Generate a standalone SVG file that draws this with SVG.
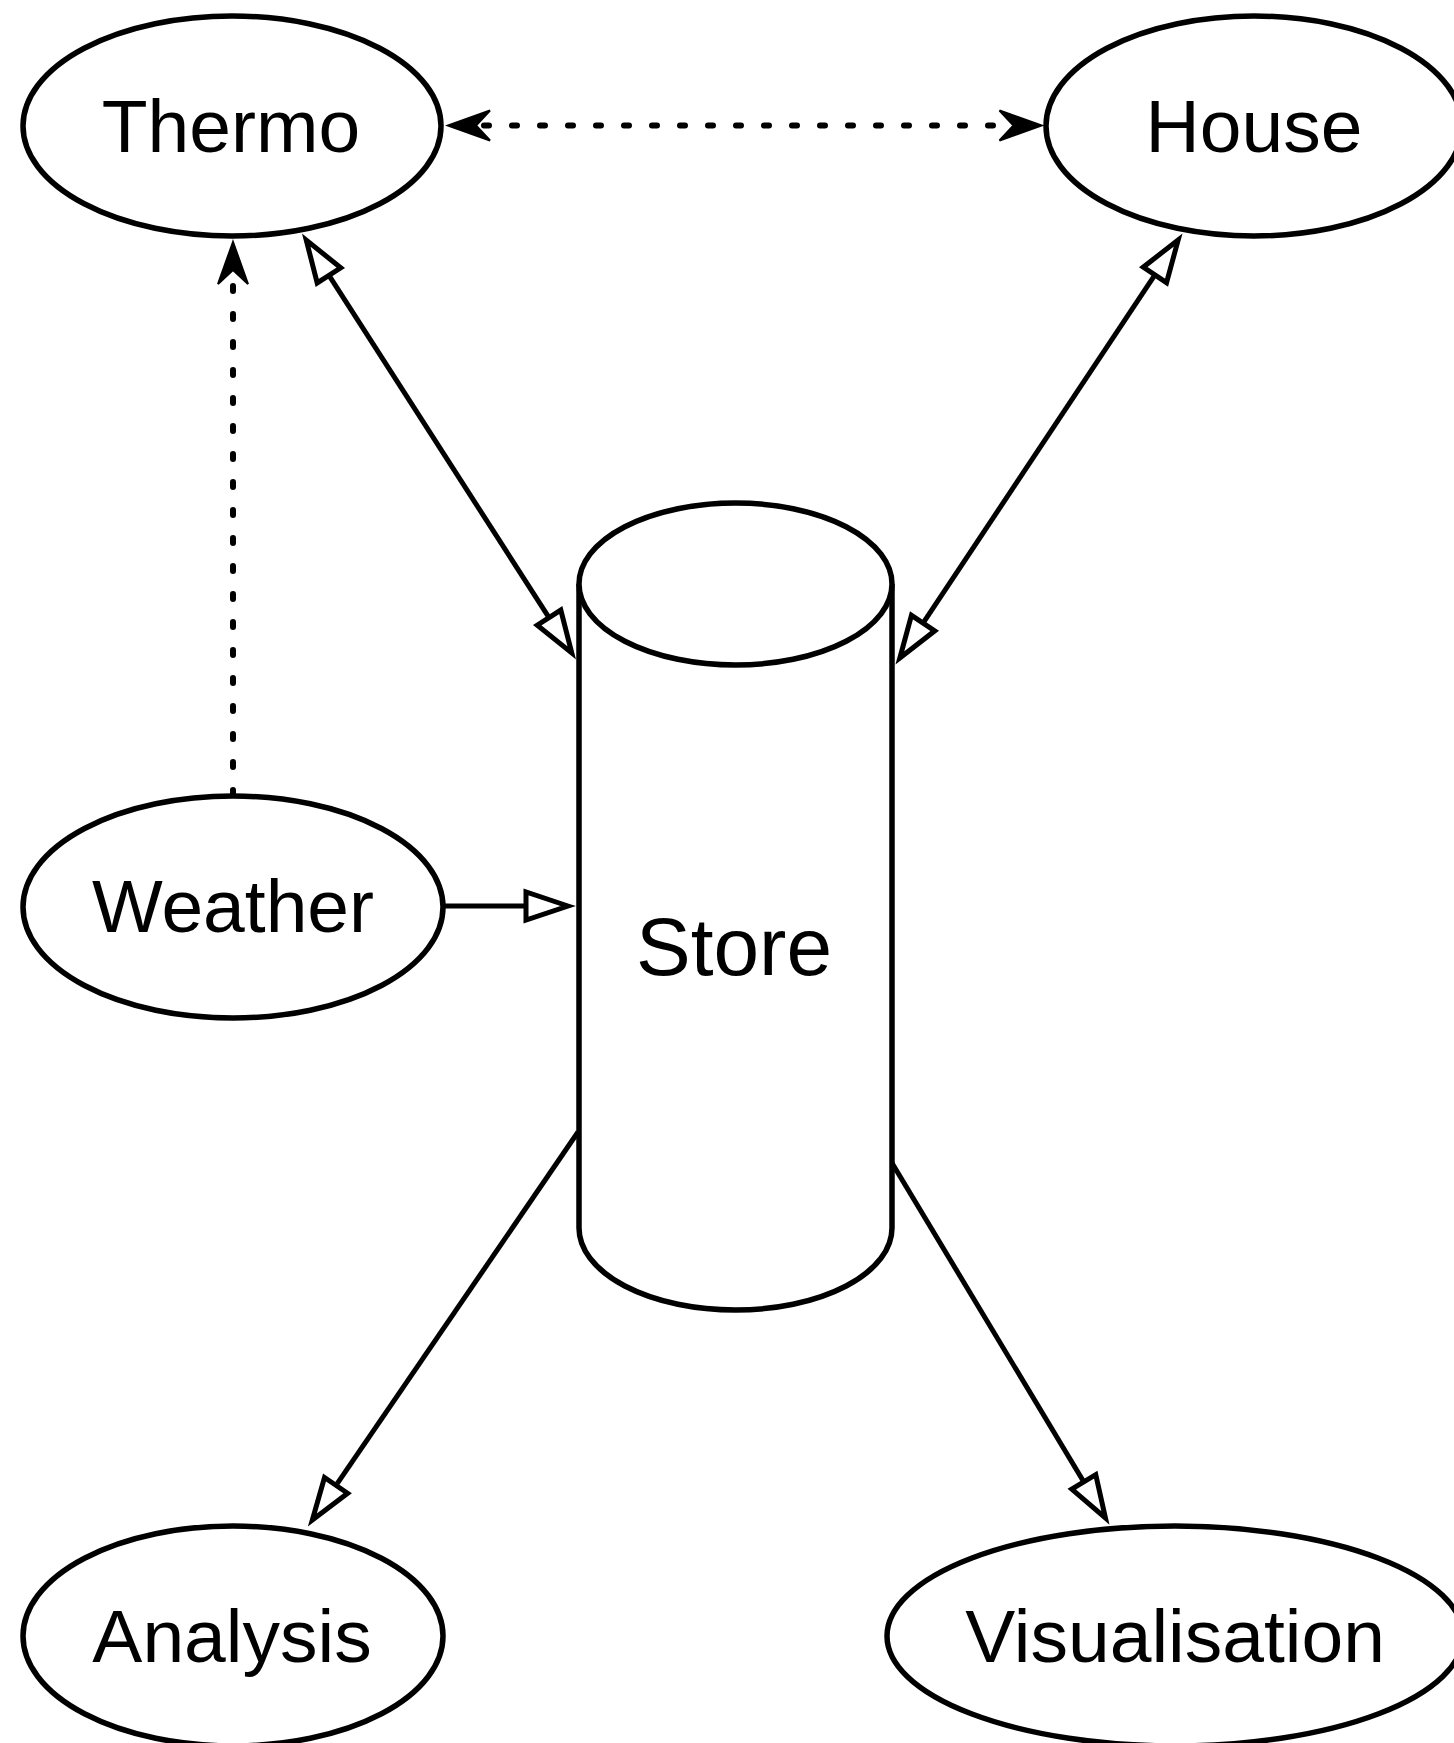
<svg xmlns="http://www.w3.org/2000/svg" width="1454" height="1743" viewBox="0 0 1454 1743">
  <style>
    .shape { fill: #fff; stroke: #000; stroke-width: 5.5; }
    .label { font-family: "Liberation Sans", Arial, Helvetica, sans-serif; font-size: 75px; fill: #000; text-anchor: middle; }
    .edge { fill: none; stroke: #000; stroke-width: 5; }
    .dotted { stroke-width: 6; stroke-dasharray: 5 23; stroke-linecap: round; }
  </style>
  <defs>
    <!-- hollow triangle head -->
    <marker id="tri" markerUnits="userSpaceOnUse" viewBox="-50 -22 64 44" refX="0" refY="0" markerWidth="64" markerHeight="44" orient="auto-start-reverse">
      <path d="M1,0 L-41,-14 L-41,14 Z" fill="#fff" stroke="#000" stroke-width="5" stroke-linejoin="miter"/>
    </marker>
    <!-- notched filled head for dotted links -->
    <marker id="vee" markerUnits="userSpaceOnUse" viewBox="-40 -20 56 40" refX="0" refY="0" markerWidth="56" markerHeight="40" orient="auto-start-reverse">
      <path d="M8,0 L-34,-15 L-20,0 L-34,15 Z" fill="#000" stroke="#000" stroke-width="2"/>
    </marker>
  </defs>

  <g id="connectors">
    <line class="edge dotted" x1="456" y1="125.5" x2="1033.5" y2="125.5" marker-start="url(#vee)" marker-end="url(#vee)"/>
    <line class="edge dotted" x1="233" y1="795" x2="233" y2="250" marker-end="url(#vee)"/>
    <line class="edge" x1="306.8" y1="240.9" x2="571.2" y2="652.1" marker-start="url(#tri)" marker-end="url(#tri)"/>
    <line class="edge" x1="900.4" y1="657.2" x2="1177.6" y2="240.8" marker-start="url(#tri)" marker-end="url(#tri)"/>
    <line class="edge" x1="443" y1="906" x2="567" y2="906" marker-end="url(#tri)"/>
    <line class="edge" x1="578" y1="1132" x2="312.9" y2="1519.2" marker-end="url(#tri)"/>
    <line class="edge" x1="892" y1="1163" x2="1104.9" y2="1517" marker-end="url(#tri)"/>
  </g>

  <g id="thermo">
    <ellipse class="shape" cx="232" cy="126" rx="209" ry="110"/>
    <text class="label" x="231" y="152">Thermo</text>
  </g>
  <g id="house">
    <ellipse class="shape" cx="1254" cy="126" rx="208" ry="110"/>
    <text class="label" x="1254" y="152">House</text>
  </g>
  <g id="weather">
    <ellipse class="shape" cx="233" cy="907" rx="210" ry="111"/>
    <text class="label" x="233" y="932">Weather</text>
  </g>
  <g id="store">
    <path class="shape" d="M579,584 A156.5,81 0 0 1 892,584 V1228 A156.5,82 0 0 1 579,1228 Z"/>
    <path class="shape" fill="none" d="M579,584 A156.5,81 0 0 0 892,584"/>
    <text class="label" x="734" y="975" style="font-size:82px">Store</text>
  </g>
  <g id="analysis">
    <ellipse class="shape" cx="233" cy="1636" rx="210" ry="110"/>
    <text class="label" x="232" y="1662">Analysis</text>
  </g>
  <g id="visualisation">
    <ellipse class="shape" cx="1175" cy="1636" rx="288" ry="110"/>
    <text class="label" x="1175" y="1662">Visualisation</text>
  </g>
</svg>
